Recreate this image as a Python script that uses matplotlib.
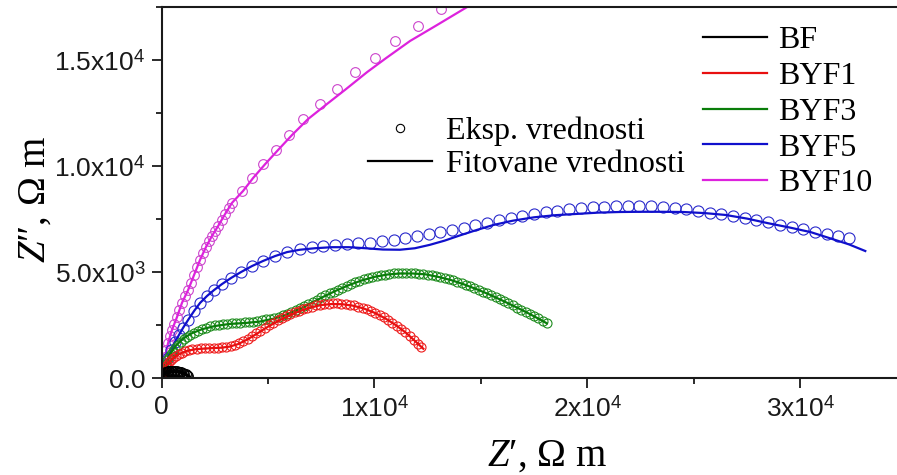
import matplotlib
matplotlib.use("Agg")
import matplotlib.pyplot as plt
from matplotlib.lines import Line2D
from matplotlib.ticker import MultipleLocator, FixedLocator, FixedFormatter

plt.rcParams["mathtext.fontset"] = "custom"
plt.rcParams["mathtext.rm"] = "Liberation Sans"
plt.rcParams["mathtext.it"] = "Liberation Serif:italic"

# ---- measured data, values in 10^3 Ohm m ----
bf_exp_re = [0.02, 0.05, 0.09, 0.13, 0.18, 0.24, 0.30, 0.37, 0.44, 0.51, 0.58, 0.65, 0.72, 0.79,
             0.86, 0.93, 1.00, 1.07, 1.13, 1.19, 1.25]
bf_exp_im = [0.08, 0.14, 0.19, 0.23, 0.26, 0.29, 0.31, 0.32, 0.33, 0.33, 0.33, 0.32, 0.31, 0.30,
             0.28, 0.26, 0.23, 0.20, 0.17, 0.14, 0.11]
bf_fit_re = [0.0, 0.05, 0.15, 0.30, 0.45, 0.60, 0.75, 0.90, 1.05, 1.20, 1.30]
bf_fit_im = [0.0, 0.12, 0.22, 0.28, 0.31, 0.32, 0.31, 0.28, 0.22, 0.13, 0.05]

byf1_exp_re = [0.02, 0.05, 0.09, 0.14, 0.20, 0.27, 0.35, 0.44, 0.55, 0.67, 0.80, 0.95, 1.10, 1.27, 1.45,
               1.65, 1.85, 2.05, 2.25, 2.45, 2.65, 2.85, 3.05, 3.25, 3.45, 3.65, 3.85, 4.05, 4.25, 4.45,
               4.65, 4.85, 5.05, 5.25, 5.45, 5.65, 5.85, 6.05, 6.25, 6.45, 6.65, 6.85, 7.05, 7.25, 7.45,
               7.65, 7.85, 8.05, 8.25, 8.45, 8.65, 8.85, 9.05, 9.25, 9.45, 9.65, 9.85, 10.05, 10.25, 10.45,
               10.65, 10.85, 11.05, 11.25, 11.45, 11.65, 11.85, 12.05, 12.20]
byf1_exp_im = [0.05, 0.15, 0.27, 0.38, 0.50, 0.62, 0.74, 0.85, 0.96, 1.05, 1.13, 1.20, 1.26, 1.31, 1.35,
               1.38, 1.40, 1.41, 1.42, 1.42, 1.43, 1.44, 1.46, 1.50, 1.56, 1.64, 1.74, 1.85, 1.97, 2.10,
               2.23, 2.36, 2.49, 2.61, 2.72, 2.82, 2.92, 3.01, 3.09, 3.17, 3.24, 3.31, 3.37, 3.42, 3.46,
               3.49, 3.51, 3.52, 3.52, 3.51, 3.49, 3.46, 3.42, 3.37, 3.31, 3.24, 3.16, 3.07, 2.97, 2.86,
               2.74, 2.61, 2.47, 2.32, 2.16, 1.99, 1.81, 1.62, 1.48]
byf1_fit_re = [0.0, 0.10, 0.25, 0.50, 0.80, 1.20, 1.60, 2.20, 2.80, 3.20, 3.60, 4.00, 4.50, 5.00, 5.50,
               6.00, 6.50, 7.00, 7.50, 8.00, 8.50, 9.00, 9.50, 10.00, 10.50, 11.00, 11.50, 12.00, 12.30]
byf1_fit_im = [0.0, 0.30, 0.60, 0.90, 1.12, 1.28, 1.36, 1.40, 1.43, 1.48, 1.60, 1.80, 2.10, 2.42, 2.70,
               2.95, 3.16, 3.33, 3.44, 3.49, 3.48, 3.41, 3.28, 3.08, 2.82, 2.50, 2.12, 1.66, 1.38]

byf3_exp_re = [0.02, 0.05, 0.09, 0.14, 0.20, 0.27, 0.35, 0.44, 0.54, 0.65, 0.77, 0.90, 1.04, 1.19, 1.35,
               1.52, 1.70, 1.90, 2.10, 2.30, 2.50, 2.70, 2.90, 3.10, 3.30, 3.50, 3.70, 3.90, 4.10, 4.30,
               4.50, 4.70, 4.90, 5.10, 5.30, 5.50, 5.70, 5.90, 6.10, 6.30, 6.50, 6.70, 6.90, 7.10, 7.30,
               7.50, 7.70, 7.90, 8.10, 8.30, 8.50, 8.70, 8.90, 9.10, 9.30, 9.50, 9.70, 9.90, 10.10, 10.30,
               10.50, 10.70, 10.90, 11.10, 11.30, 11.50, 11.70, 11.90, 12.10, 12.30, 12.50, 12.70, 12.90, 13.10, 13.30,
               13.50, 13.70, 13.90, 14.10, 14.30, 14.50, 14.70, 14.90, 15.10, 15.30, 15.50, 15.70, 15.90, 16.10, 16.30,
               16.50, 16.70, 16.90, 17.10, 17.30, 17.50, 17.70, 17.90, 18.10]
byf3_exp_im = [0.08, 0.20, 0.36, 0.52, 0.68, 0.84, 0.99, 1.14, 1.29, 1.43, 1.57, 1.70, 1.82, 1.93, 2.03,
               2.13, 2.22, 2.30, 2.37, 2.43, 2.48, 2.52, 2.55, 2.57, 2.59, 2.60, 2.61, 2.62, 2.64, 2.66,
               2.69, 2.72, 2.76, 2.80, 2.85, 2.90, 2.96, 3.03, 3.11, 3.20, 3.30, 3.40, 3.50, 3.60, 3.70,
               3.80, 3.90, 3.99, 4.08, 4.17, 4.26, 4.35, 4.43, 4.51, 4.58, 4.65, 4.71, 4.76, 4.81, 4.85,
               4.88, 4.91, 4.93, 4.94, 4.95, 4.95, 4.95, 4.94, 4.92, 4.90, 4.87, 4.84, 4.80, 4.75, 4.71,
               4.66, 4.60, 4.53, 4.46, 4.39, 4.32, 4.24, 4.16, 4.07, 3.99, 3.90, 3.81, 3.71, 3.62, 3.52,
               3.42, 3.32, 3.22, 3.12, 3.02, 2.92, 2.81, 2.70, 2.58]
byf3_fit_re = [0.0, 0.10, 0.25, 0.45, 0.70, 1.00, 1.40, 1.90, 2.50, 3.20, 4.00, 4.60, 5.20, 5.80, 6.40,
               7.00, 7.60, 8.20, 8.80, 9.40, 10.00, 10.60, 11.20, 11.80, 12.40, 13.00, 13.60, 14.20, 14.80, 15.40,
               16.00, 16.60, 17.20, 17.80, 18.10]
byf3_fit_im = [0.0, 0.40, 0.80, 1.20, 1.55, 1.85, 2.10, 2.30, 2.45, 2.55, 2.60, 2.66, 2.78, 2.97, 3.22,
               3.52, 3.83, 4.12, 4.38, 4.60, 4.77, 4.88, 4.93, 4.93, 4.89, 4.77, 4.62, 4.42, 4.19, 3.94,
               3.66, 3.37, 3.07, 2.75, 2.58]

byf5_exp_re = [0.07, 0.16, 0.31, 0.45, 0.63, 0.82, 1.01, 1.25, 1.53, 1.81, 2.14, 2.47, 2.84, 3.27, 3.74,
               4.25, 4.77, 5.33, 5.90, 6.50, 7.05, 7.60, 8.15, 8.70, 9.25, 9.80, 10.35, 10.90, 11.45, 12.00,
               12.55, 13.10, 13.65, 14.20, 14.75, 15.30, 15.85, 16.40, 16.95, 17.50, 18.05, 18.60, 19.15, 19.70, 20.25,
               20.80, 21.35, 21.90, 22.45, 23.00, 23.55, 24.10, 24.65, 25.20, 25.75, 26.30, 26.85, 27.40, 27.95, 28.50,
               29.05, 29.60, 30.15, 30.70, 31.25, 31.80, 32.30]
byf5_exp_im = [0.28, 0.61, 0.94, 1.32, 1.70, 2.03, 2.36, 2.74, 3.16, 3.54, 3.87, 4.15, 4.43, 4.72, 5.00,
               5.28, 5.52, 5.75, 5.94, 6.09, 6.16, 6.22, 6.28, 6.31, 6.35, 6.39, 6.45, 6.52, 6.60, 6.68,
               6.78, 6.88, 6.98, 7.09, 7.20, 7.31, 7.43, 7.54, 7.65, 7.74, 7.82, 7.89, 7.96, 8.01, 8.05,
               8.08, 8.10, 8.11, 8.10, 8.09, 8.06, 8.03, 7.97, 7.88, 7.80, 7.72, 7.63, 7.53, 7.44, 7.34,
               7.24, 7.13, 7.02, 6.91, 6.80, 6.69, 6.60]
byf5_fit_re = [0.0, 0.07, 0.16, 0.31, 0.45, 0.63, 0.82, 1.01, 1.25, 1.53, 1.81, 2.14, 2.47, 2.84, 3.27,
               3.74, 4.25, 4.77, 5.33, 5.90, 6.50, 7.20, 8.00, 8.80, 9.60, 10.40, 11.20, 11.90, 12.60, 13.30,
               14.00, 14.80, 15.60, 16.50, 17.50, 18.50, 19.50, 20.50, 21.50, 22.50, 23.50, 24.50, 25.50, 26.50, 27.50,
               28.50, 29.50, 30.50, 31.50, 32.30, 33.06]
byf5_fit_im = [0.0, 0.28, 0.61, 0.94, 1.32, 1.70, 2.03, 2.36, 2.74, 3.16, 3.54, 3.87, 4.15, 4.43, 4.72,
               5.00, 5.28, 5.52, 5.75, 5.94, 6.05, 6.12, 6.17, 6.17, 6.12, 6.06, 6.05, 6.12, 6.28, 6.48,
               6.72, 6.98, 7.22, 7.42, 7.58, 7.68, 7.74, 7.80, 7.83, 7.84, 7.84, 7.83, 7.78, 7.69, 7.52,
               7.30, 7.10, 6.88, 6.56, 6.30, 5.99]

byf10_exp_re = [0.02, 0.04, 0.07, 0.11, 0.17, 0.23, 0.30, 0.39, 0.49, 0.60, 0.73, 0.84, 0.96, 1.10,
                1.25, 1.39, 1.53, 1.67, 1.81, 1.95, 2.09, 2.23, 2.37, 2.51, 2.66, 2.82, 2.99, 3.15,
                3.31, 3.78, 4.25, 4.77, 5.38, 5.99, 6.65, 7.45, 8.25, 9.10, 10.04, 10.98, 12.06, 13.14]
byf10_exp_im = [0.05, 0.25, 0.47, 0.72, 0.99, 1.32, 1.65, 1.96, 2.26, 2.57, 2.88, 3.21, 3.54, 3.85,
                4.15, 4.50, 4.86, 5.22, 5.57, 5.88, 6.18, 6.44, 6.70, 6.94, 7.17, 7.46, 7.74, 8.00,
                8.26, 8.82, 9.43, 10.09, 10.76, 11.46, 12.22, 12.93, 13.63, 14.43, 15.09, 15.90, 16.60, 17.41]
byf10_fit_re = [0.0, 0.07, 0.17, 0.31, 0.49, 0.73, 0.96, 1.25, 1.53, 1.81, 2.09, 2.37, 2.66, 2.99,
                3.31, 3.83, 4.30, 4.87, 5.48, 6.13, 6.89, 7.78, 8.67, 9.66, 10.55, 11.68, 12.86, 14.59]
byf10_fit_im = [0.0, 0.47, 0.99, 1.65, 2.26, 2.88, 3.54, 4.15, 4.86, 5.57, 6.18, 6.70, 7.17, 7.74,
                8.26, 8.82, 9.43, 10.09, 10.76, 11.46, 12.22, 12.93, 13.63, 14.43, 15.09, 15.90, 16.60, 17.64]

sample_names = ["BF", "BYF1", "BYF3", "BYF5", "BYF10"]
x_ticks = [0, 10000, 20000, 30000]
x_tick_labels = ["0", "1x10$^{4}$", "2x10$^{4}$", "3x10$^{4}$"]
y_ticks = [0, 5000, 10000, 15000]
y_tick_labels = ["0.0", "5.0x10$^{3}$", "1.0x10$^{4}$", "1.5x10$^{4}$"]

scale = 1000.0
# (exp Z', exp Z'', fit Z', fit Z'', point colour, line colour, marker size, line width)
series = [
    (bf_exp_re, bf_exp_im, bf_fit_re, bf_fit_im, "#000000", "#000000", 7.0, 2.6),
    (byf1_exp_re, byf1_exp_im, byf1_fit_re, byf1_fit_im, "#ee1c1c", "#e81010", 6.5, 1.6),
    (byf3_exp_re, byf3_exp_im, byf3_fit_re, byf3_fit_im, "#1e8c1e", "#0a7d0a", 6.5, 1.6),
    (byf5_exp_re, byf5_exp_im, byf5_fit_re, byf5_fit_im, "#2a2acc", "#1010cc", 8.0, 1.6),
    (byf10_exp_re, byf10_exp_im, byf10_fit_re, byf10_fit_im, "#cc44cc", "#dd22dd", 7.0, 1.6),
]

fig = plt.figure(figsize=(8.97, 4.75), dpi=100)
ax = fig.add_axes([161.5 / 897, 97 / 475, (897 - 161.5) / 897, 371 / 475])

for re_e, im_e, re_f, im_f, c_pts, c_line, ms, lw in reversed(series):
    ax.plot([v * scale for v in re_e], [v * scale for v in im_e], linestyle="none",
            marker="o", markersize=ms, markerfacecolor="none", markeredgecolor=c_pts,
            markeredgewidth=0.8)
    ax.plot([v * scale for v in re_f], [v * scale for v in im_f], color=c_line, linewidth=lw)

ax.set_xlim(0, 34550)
ax.set_ylim(0, 17500)

ax.xaxis.set_major_locator(FixedLocator(x_ticks))
ax.xaxis.set_major_formatter(FixedFormatter(x_tick_labels))
ax.yaxis.set_major_locator(FixedLocator(y_ticks))
ax.yaxis.set_major_formatter(FixedFormatter(y_tick_labels))
ax.xaxis.set_minor_locator(MultipleLocator(5000))
ax.yaxis.set_minor_locator(MultipleLocator(2500))

ax.spines["right"].set_visible(False)
for s in ("left", "bottom", "top"):
    ax.spines[s].set_linewidth(1.5)
    ax.spines[s].set_color("#1a1a1a")

ax.tick_params(which="major", direction="out", length=7.5, width=1.3, color="#1a1a1a",
               top=False, right=False)
ax.tick_params(axis="x", which="major", pad=5)
ax.tick_params(axis="y", which="major", pad=4)
ax.tick_params(which="minor", direction="out", length=4.0, width=1.3, color="#1a1a1a",
               top=False, right=False)
for lab in ax.get_xticklabels() + ax.get_yticklabels():
    lab.set_fontfamily("Liberation Sans")
    lab.set_fontsize(19)
    lab.set_color("#1a1a1a")

serif = ["Liberation Serif", "DejaVu Serif"]
fig.text(547 / 897, 1 - 466 / 475, "$\\mathit{Z}$\u2032, \u03a9 m", family=serif,
         fontsize=28, ha="center", va="baseline")
fig.text(45 / 897, 1 - 199 / 475, "$\\mathit{Z}$\u2033, \u03a9 m", family=serif,
         fontsize=28, ha="center", va="baseline", rotation=90, rotation_mode="anchor")

# legend: marker type
type_handles = [
    Line2D([], [], linestyle="none", marker="o", markersize=6, markerfacecolor="none",
           markeredgecolor="black", markeredgewidth=0.8),
    Line2D([], [], color="black", linewidth=1.6),
]
leg1 = ax.legend(type_handles, ["Eksp. vrednosti", "Fitovane vrednosti"],
                 prop={"family": "Liberation Serif", "size": 23}, frameon=False,
                 loc="upper left", bbox_to_anchor=(368 / 897, 1 - 117 / 475),
                 bbox_transform=fig.transFigure, handlelength=2.0, handletextpad=0.45,
                 labelspacing=0.1, borderpad=0, borderaxespad=0)
ax.add_artist(leg1)

# legend: samples
sample_handles = [Line2D([], [], color=s[5], linewidth=1.6) for s in series]
ax.legend(sample_handles, sample_names, prop={"family": "Liberation Serif", "size": 23},
          frameon=False, loc="upper left", bbox_to_anchor=(703 / 897, 1 - 26 / 475),
          bbox_transform=fig.transFigure, handlelength=2.0, handletextpad=0.35,
          labelspacing=0.2, borderpad=0, borderaxespad=0)

fig.savefig("out.png", dpi=100)
